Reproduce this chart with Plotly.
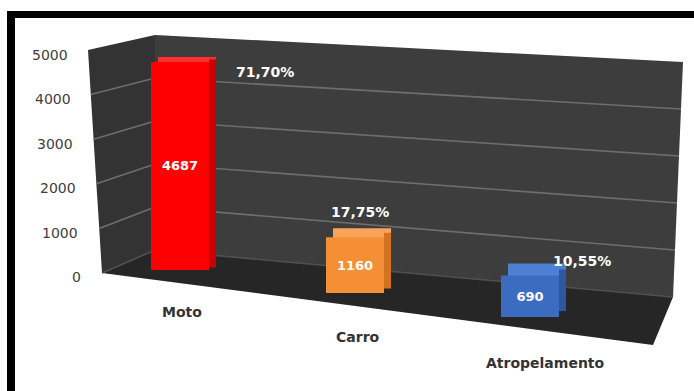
import plotly.graph_objects as go

# ---------------- data ----------------
categories = ["Moto", "Carro", "Atropelamento"]
values = [4687, 1160, 690]
percent_labels = ["71,70%", "17,75%", "10,55%"]
axis_ticks = [0, 1000, 2000, 3000, 4000, 5000]
axis_tick_labels = ["0", "1000", "2000", "3000", "4000", "5000"]

front_colors = ["#ff0000", "#f48f35", "#3c6cc0"]
top_colors = ["#ff3030", "#f9a458", "#4d80d2"]
side_colors = ["#c80000", "#d4721f", "#2d58a0"]

# ---------------- layout constants (pixels) ----------------
W, H = 694, 391
FONT = "DejaVu Sans"
def px(x):
    return x / W
def py(y):
    return 1 - y / H

baselines = [270, 293, 317]       # px of value 0 under each bar
scales = [44.4, 48.0, 60.0]       # px per 1000 units
depth_dy = [5, 9, 12]             # visible top face (px)
depth_dx = 7                      # visible side face (px)

x0_px, unit_px = 180, 175
bar_w = 58 / unit_px
dx_u = depth_dx / unit_px

fig = go.Figure()

LT, BT, RT = (88, 50), (155, 35), (683, 62)
LB, BB, RB, FB = (102, 273), (155, 250), (673, 297), (653, 345)

def poly(points, color):
    path = "M " + " L ".join(f"{px(x)},{py(y)}" for x, y in points) + " Z"
    return dict(type="path", path=path, xref="paper", yref="paper",
                fillcolor=color, line=dict(width=0), layer="below")

shapes = [
    poly([LT, BT, BB, LB], "#333333"),
    poly([BT, RT, RB, BB], "#3d3d3d"),
    poly([LB, BB, RB, FB], "#262626"),
]

def lerp(a, b, t):
    return a + (b - a) * t

for v in axis_ticks[:-1]:
    t = v / 5000
    lx, ly = lerp(LB[0], LT[0], t), lerp(LB[1], LT[1], t)
    bx, by = BT[0], lerp(BB[1], BT[1], t)
    rx, ry = lerp(RB[0], RT[0], t), lerp(RB[1], RT[1], t)
    col = "#6e6e6e" if v > 0 else "#505050"
    shapes.append(dict(type="path",
                       path=f"M {px(lx)},{py(ly)} L {px(bx)},{py(by)} L {px(rx)},{py(ry)}",
                       xref="paper", yref="paper",
                       line=dict(color=col, width=1.6), layer="below"))

shapes.append(dict(type="rect", xref="paper", yref="paper",
                   x0=px(7), x1=px(694), y0=py(18), y1=py(11),
                   fillcolor="black", line=dict(width=0)))
shapes.append(dict(type="rect", xref="paper", yref="paper",
                   x0=px(7), x1=px(15), y0=py(391), y1=py(11),
                   fillcolor="black", line=dict(width=0)))

annotations = []
yaxes = {}
for i, (cat, val) in enumerate(zip(categories, values)):
    yname = "y" if i == 0 else f"y{i+1}"
    lname = "yaxis" if i == 0 else f"yaxis{i+1}"
    s = scales[i] / 1000.0
    b = baselines[i]
    ax = dict(range=[-(H - b) / s, b / s], domain=[0, 1], visible=False,
              showgrid=False, zeroline=False, fixedrange=True)
    if i > 0:
        ax.update(overlaying="y", anchor="x")
    yaxes[lname] = ax
    dy_u = depth_dy[i] / s

    # top face (shifted box behind)
    fig.add_trace(go.Bar(
        x=[cat], y=[val], base=[dy_u],
        width=[bar_w], offset=[-bar_w / 2 + dx_u],
        marker=dict(color=top_colors[i], line=dict(width=0)),
        yaxis=yname, xaxis="x", hoverinfo="skip", showlegend=False))
    # side face
    fig.add_trace(go.Bar(
        x=[cat], y=[val], base=[dy_u / 2],
        width=[dx_u], offset=[bar_w / 2],
        marker=dict(color=side_colors[i], line=dict(width=0)),
        yaxis=yname, xaxis="x", hoverinfo="skip", showlegend=False))
    # front face
    fig.add_trace(go.Bar(
        x=[cat], y=[val], width=[bar_w], offset=[-bar_w / 2],
        marker=dict(color=front_colors[i], line=dict(width=0)),
        text=[str(val)], textposition="inside", insidetextanchor="middle",
        textangle=0, constraintext="none",
        textfont=dict(color="white", size=13, family=FONT),
        texttemplate="<b>%{text}</b>",
        yaxis=yname, xaxis="x", hoverinfo="skip", showlegend=False))

pct_shift = [(85, -10), (5, 25), (52, 15)]
for i, lab in enumerate(percent_labels):
    yname = "y" if i == 0 else f"y{i+1}"
    annotations.append(dict(x=categories[i], y=values[i], xref="x", yref=yname,
                            text=f"<b>{lab}</b>", showarrow=False,
                            xshift=pct_shift[i][0], yshift=pct_shift[i][1],
                            font=dict(color="white", size=14, family=FONT)))

cat_shift = [(2, -42), (3, -44), (15, -46)]
for i, cat in enumerate(categories):
    yname = "y" if i == 0 else f"y{i+1}"
    annotations.append(dict(x=cat, y=0, xref="x", yref=yname,
                            text=f"<b>{cat}</b>", showarrow=False,
                            xshift=cat_shift[i][0], yshift=cat_shift[i][1],
                            font=dict(color="#333333", size=14, family=FONT)))

for v, lab in zip(axis_ticks, axis_tick_labels):
    annotations.append(dict(x=px(83 - 13 * v / 5000), y=v, xref="paper", yref="y",
                            text=lab, showarrow=False, xanchor="right", yshift=-7,
                            font=dict(color="#404040", size=14, family=FONT)))

fig.update_layout(
    width=W, height=H,
    margin=dict(l=0, r=0, t=0, b=0),
    paper_bgcolor="white", plot_bgcolor="rgba(0,0,0,0)",
    barmode="overlay",
    xaxis=dict(type="category", categoryorder="array", categoryarray=categories,
               range=[-x0_px / unit_px, (W - x0_px) / unit_px],
               domain=[0, 1], visible=False, showgrid=False, fixedrange=True),
    shapes=shapes, annotations=annotations,
    showlegend=False,
    **yaxes,
)

fig.write_html("out.html", config={"displayModeBar": False},
               post_script="document.body.style.margin='0';document.body.style.overflow='hidden';")
